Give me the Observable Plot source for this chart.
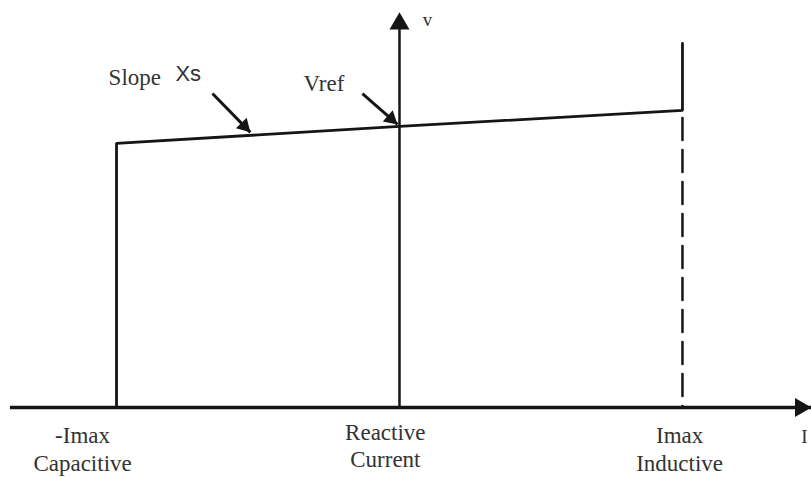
<!DOCTYPE html>
<html><head><meta charset="utf-8">
<script src="https://cdn.jsdelivr.net/npm/d3@7"></script>
<script src="https://cdn.jsdelivr.net/npm/@observablehq/plot@0.6"></script>
<style>html,body{margin:0;padding:0;background:#fff;} #chart{width:811px;height:477px;overflow:hidden;}</style>
</head><body><div id="chart"></div>
<script>
// Reactive current in per-unit of Imax (negative = capacitive), voltage in per-unit of Vref
const currentTicks = [-1, 0, 1];
const labelTop = ["-Imax", "Reactive", "Imax"];
const labelBottom = ["Capacitive", "Current", "Inductive"];
const labelCurrent = [-1.12, -0.05, 0.99];
const labelTopV = [-0.128, -0.115, -0.128];
const labelBottomV = [-0.225, -0.210, -0.227];

// V-I characteristic (solid) and inductive limit (dashed)
const charCurrent = [-1, -1, 0, 1, 1];
const charVoltage = [0, 0.94, 1.0, 1.057, 1.295];
const dashCurrent = [1, 1];
const dashVoltage = [1.03, 0];

// axis extents (I axis, V axis)
const iAxis = [-1.375, 1.456];
const vAxis = [0, 1.406];
const axisNames = ["I", "v"];
const axisNameI = [1.431, 0.099];
const axisNameV = [-0.128, 1.359];

// annotations
const annText = ["Slope", "Xs", "Vref"];
const annI = [-1.028, -0.792, -0.339];
const annV = [1.149, 1.162, 1.125];
const annFont = ["Liberation Serif", "Liberation Sans", "Liberation Serif"];
const annSize = [23, 22, 23];
const arrowI1 = [-0.661, -0.131];
const arrowV1 = [1.117, 1.117];
const arrowI2 = [-0.527, -0.007];
const arrowV2 = [0.979, 1.007];

// build tables
const charData = charCurrent.map((x, i) => ({x, y: charVoltage[i]}));
const dashData = dashCurrent.map((x, i) => ({x, y: dashVoltage[i]}));
const labels = currentTicks.map((t, i) => ({x: labelCurrent[i], top: labelTop[i], bottom: labelBottom[i], yt: labelTopV[i], yb: labelBottomV[i]}));
const ann = annText.map((t, i) => ({t, x: annI[i], y: annV[i], font: annFont[i], size: annSize[i]}));
const arrows = arrowI1.map((x1, i) => ({x1, y1: arrowV1[i], x2: arrowI2[i], y2: arrowV2[i]}));

const xs = d3.scaleLinear().domain([-1.410, 1.456]).range([0, 811]);
const ys = d3.scaleLinear().domain([-0.249, 1.448]).range([477, 0]);
// arrowhead rotation (clockwise from up) and centroid offset
function head(a, side) {
  const dxp = xs(a.x2) - xs(a.x1), dyp = ys(a.y2) - ys(a.y1);
  const ang = Math.atan2(dxp, -dyp);
  const back = side * Math.sqrt(3) / 2 * 2 / 3;
  return {x: a.x2, y: a.y2, rot: ang * 180 / Math.PI, dx: -back * Math.sin(ang), dy: back * Math.cos(ang)};
}
const heads = arrows.map(a => head(a, 15));
const ink = "#151515";
const txt = "#333";
function triR(side) { return Math.sqrt(Math.sqrt(3) / 4 * side * side / Math.PI); }

const marks = [
  // axes
  Plot.ruleY([0], {x1: iAxis[0], x2: iAxis[1], stroke: ink, strokeWidth: 3.5}),
  Plot.ruleX([0], {y1: vAxis[0], y2: vAxis[1] - 0.05, stroke: ink, strokeWidth: 2.5}),
  Plot.dot([{x: 0, y: vAxis[1]}], {x: "x", y: "y", symbol: "triangle", r: triR(20), fill: ink, stroke: "none", dy: 11.5}),
  Plot.dot([{x: iAxis[1], y: 0}], {x: "x", y: "y", symbol: "triangle", r: triR(19), fill: ink, stroke: "none", rotate: 90, dx: -11}),
  // characteristic
  Plot.line(charData, {x: "x", y: "y", stroke: ink, strokeWidth: 2.8, strokeLinejoin: "miter", curve: "linear"}),
  Plot.line(dashData, {x: "x", y: "y", stroke: ink, strokeWidth: 2.5, strokeDasharray: "22,10"}),
  // annotation arrows
  Plot.link(arrows, {x1: "x1", y1: "y1", x2: "x2", y2: "y2", stroke: ink, strokeWidth: 3}),
  ...heads.map(h => Plot.dot([h], {x: "x", y: "y", symbol: "triangle", r: triR(15), fill: ink, stroke: "none", rotate: h.rot, dx: h.dx, dy: h.dy})),
  // texts
  ...ann.map(a => Plot.text([a], {x: "x", y: "y", text: "t", textAnchor: "start", lineAnchor: "bottom", fontFamily: a.font, fontSize: a.size, fill: txt})),
  Plot.text(labels, {x: "x", y: "yt", text: "top", lineAnchor: "bottom", fontFamily: "Liberation Serif", fontSize: 23, fill: txt}),
  Plot.text(labels, {x: "x", y: "yb", text: "bottom", lineAnchor: "bottom", fontFamily: "Liberation Serif", fontSize: 23, fill: txt}),
  Plot.text(axisNames.map((n, i) => ({n, x: axisNameI[i], y: axisNameV[i]})), {x: "x", y: "y", text: "n", lineAnchor: "bottom", fontFamily: "Liberation Serif", fontSize: 19, fill: txt})
];

const chart = Plot.plot({
  width: 811, height: 477,
  margin: 0,
  x: {domain: xs.domain(), axis: null},
  y: {domain: ys.domain(), axis: null},
  style: {background: "#fff", overflow: "hidden"},
  marks
});
document.getElementById("chart").appendChild(chart);
</script>
</body></html>
